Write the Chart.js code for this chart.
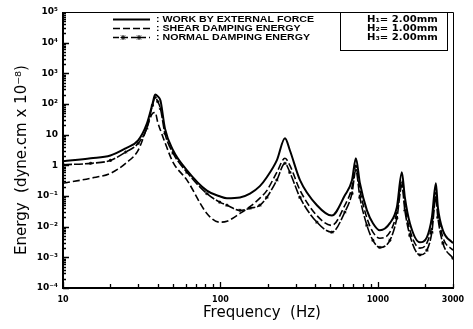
<!DOCTYPE html>
<html><head><meta charset="utf-8">
<script src="https://cdn.jsdelivr.net/npm/chart.js@4"></script>
<style>html,body{margin:0;padding:0;background:#fff}#wrap{width:473px;height:329px}</style>
</head><body><div id="wrap"><canvas id="c" width="473" height="329"></canvas></div>
<script>
// ---- data ----
const frequencies = [10,15,20,25,30,34,37,38.5,40,41.6,44.4,50,61.3,82,99,110,133,154,178,197,228,257,276,320,410,510,617,684,725,769,852,930,1030,1192,1320,1420,1484,1597,1848,2047,2203,2335,2404,2587,3000];
const workByExternalForce = [1.35,1.7,2.1,3.6,6.5,22,100,205,178,130,16,3.1,0.69,0.15,0.098,0.085,0.09,0.12,0.21,0.41,1.45,7.6,3.1,0.33,0.05,0.023,0.105,0.32,1.7,0.26,0.034,0.013,0.0076,0.013,0.043,0.59,0.09,0.013,0.0031,0.0045,0.020,0.26,0.043,0.0076,0.0029];
const shearDampingEnergy = [0.26,0.38,0.55,1.16,3.1,16,49,53,25,14,5.6,1.25,0.33,0.027,0.014,0.015,0.027,0.045,0.085,0.15,0.59,1.7,1.0,0.155,0.023,0.011,0.05,0.19,1.0,0.155,0.019,0.0066,0.0042,0.0066,0.030,0.33,0.05,0.0076,0.0020,0.0029,0.011,0.13,0.030,0.0045,0.0017];
const normalDampingEnergy = [1.05,1.16,1.45,2.7,5.2,16,90,163,120,70,11,2.5,0.59,0.12,0.063,0.05,0.034,0.04,0.05,0.09,0.33,1.16,0.59,0.09,0.014,0.0066,0.030,0.12,0.69,0.09,0.011,0.0036,0.0021,0.0036,0.019,0.22,0.034,0.0052,0.0012,0.0017,0.0066,0.09,0.020,0.0029,0.00093];
const xTickValues = [10,100,1000,3000];
const xTickLabels = ['10','100','1000','3000'];
const yTickValues = [1e5,1e4,1e3,1e2,10,1,0.1,0.01,0.001,0.0001];
const yTickLabels = ['10⁵','10⁴','10³','10²','10','1','10⁻¹','10⁻²','10⁻³','10⁻⁴'];
const seriesLabels = [': WORK BY EXTERNAL FORCE', ': SHEAR DAMPING ENERGY', ': NORMAL DAMPING ENERGY'];
const paramLabels = ['H₁= 2.00mm','H₂= 1.00mm','H₃= 2.00mm'];
const xTitle = 'Frequency  (Hz)';
const yTitle = 'Energy  (dyne.cm x 10⁻⁸)';

const toPts = arr => frequencies.map((f,i)=>({x:f,y:arr[i]}));

const deco = {
  id:'deco',
  afterDraw(chart){
    const ctx = chart.ctx, a = chart.chartArea;
    const xs = chart.scales.x, ys = chart.scales.y;
    ctx.save();
    ctx.strokeStyle = '#000'; ctx.fillStyle = '#000';
    // frame
    ctx.lineWidth = 1;
    ctx.beginPath();
    ctx.moveTo(a.left, a.top+0.5); ctx.lineTo(a.right+0.5, a.top+0.5); ctx.lineTo(a.right+0.5, a.bottom);
    ctx.stroke();
    ctx.lineWidth = 2;
    ctx.beginPath();
    ctx.moveTo(a.left, a.top); ctx.lineTo(a.left, a.bottom); ctx.lineTo(a.right+1, a.bottom);
    ctx.stroke();
    // inward ticks
    ctx.lineWidth = 1.3;
    ctx.beginPath();
    for (let n=-4;n<=4;n++) for (let k=1;k<=9;k++){
      const v = k*Math.pow(10,n); if (v>1e5*1.0001) continue;
      const y = Math.round(ys.getPixelForValue(v))+0.5;
      const len = k===1?6:3;
      ctx.moveTo(a.left, y); ctx.lineTo(a.left+len, y);
    }
    for (let n=1;n<=3;n++) for (let k=1;k<=9;k++){
      const v = k*Math.pow(10,n); if (v>3000*1.0001) continue;
      const x = Math.round(xs.getPixelForValue(v))+0.5;
      const len = k===1?6:4;
      ctx.moveTo(x, a.bottom); ctx.lineTo(x, a.bottom-len);
    }
    ctx.stroke();
    // legend
    const rows = [19.5, 28.5, 37.5];
    const sx0 = 113, sx1 = 150;
    ctx.lineWidth = 2; ctx.setLineDash([]);
    ctx.beginPath(); ctx.moveTo(sx0, rows[0]); ctx.lineTo(sx1, rows[0]); ctx.stroke();
    ctx.lineWidth = 1.6; ctx.setLineDash([7,3]);
    ctx.beginPath(); ctx.moveTo(sx0, rows[1]); ctx.lineTo(sx1, rows[1]); ctx.stroke();
    ctx.setLineDash([6,3]);
    ctx.beginPath(); ctx.moveTo(sx0, rows[2]); ctx.lineTo(sx1, rows[2]); ctx.stroke();
    ctx.setLineDash([]); ctx.lineWidth = 1;
    [123, 139].forEach(px=>{
      ctx.beginPath();
      ctx.moveTo(px-2.5, rows[2]); ctx.lineTo(px+2.5, rows[2]);
      ctx.moveTo(px, rows[2]-2.5); ctx.lineTo(px, rows[2]+2.5);
      ctx.moveTo(px-2, rows[2]-2); ctx.lineTo(px+2, rows[2]+2);
      ctx.moveTo(px-2, rows[2]+2); ctx.lineTo(px+2, rows[2]-2);
      ctx.stroke();
    });
    ctx.font = 'bold 9px "Liberation Sans"';
    ctx.textBaseline = 'middle'; ctx.textAlign = 'left';
    seriesLabels.forEach((t,i)=>{
      ctx.save(); ctx.translate(156, rows[i]+0.5); ctx.scale(1.18,1);
      ctx.fillText(t, 0, 0); ctx.restore();
    });
    // parameter box
    ctx.lineWidth = 1;
    ctx.strokeRect(340.5, a.top+0.5, 107, 38);
    ctx.font = 'bold 9px "DejaVu Sans"';
    paramLabels.forEach((t,i)=>{
      ctx.save(); ctx.translate(367, rows[i]); ctx.scale(1.12,1);
      ctx.fillText(t, 0, 0); ctx.restore();
    });
    // axis titles
    ctx.font = '15px "DejaVu Sans"';
    ctx.textAlign = 'center'; ctx.textBaseline = 'middle';
    ctx.fillText(xTitle, 262, 313);
    ctx.translate(22, 160); ctx.rotate(-Math.PI/2);
    ctx.fillText(yTitle, 0, 0);
    ctx.restore();
  }
};

new Chart(document.getElementById('c'), {
  type:'line',
  data:{ datasets:[
    {label:seriesLabels[0], data:toPts(workByExternalForce), borderColor:'#000', borderWidth:2, pointRadius:0, cubicInterpolationMode:'monotone', fill:false},
    {label:seriesLabels[1], data:toPts(shearDampingEnergy), borderColor:'#000', borderWidth:1.6, borderDash:[7,3], pointRadius:0, cubicInterpolationMode:'monotone', fill:false},
    {label:seriesLabels[2], data:toPts(normalDampingEnergy), borderColor:'#000', borderWidth:1.6, borderDash:[9,2], pointRadius:1.6, pointStyle:'star', pointBorderColor:'#000', pointBorderWidth:1, cubicInterpolationMode:'monotone', fill:false}
  ]},
  options:{
    responsive:false, animation:false, devicePixelRatio:1,
    layout:{padding:{left:0,right:20,top:12,bottom:0}},
    plugins:{legend:{display:false}, tooltip:{enabled:false}},
    scales:{
      x:{type:'logarithmic', min:10, max:3000, position:'bottom',
         afterBuildTicks:s=>{s.ticks = xTickValues.map(v=>({value:v}));},
         afterFit:s=>{s.height = 41;},
         ticks:{callback:(v)=>{const i=xTickValues.indexOf(v);return i<0?'':xTickLabels[i];}, font:{family:'DejaVu Sans',size:8,weight:'bold'}, color:'#000', padding:7, maxRotation:0, autoSkip:false},
         grid:{display:false, drawTicks:false}, border:{display:false}},
      y:{type:'logarithmic', min:1e-4, max:1e5, position:'left',
         afterBuildTicks:s=>{s.ticks = yTickValues.map(v=>({value:v}));},
         afterFit:s=>{s.width = 63;},
         ticks:{callback:(v)=>{const i=yTickValues.findIndex(t=>Math.abs(t-v)/t<1e-6);return i<0?'':yTickLabels[i];}, font:{family:'DejaVu Sans',size:9,weight:'bold'}, color:'#000', padding:5, autoSkip:false},
         grid:{display:false, drawTicks:false}, border:{display:false}}
    }
  },
  plugins:[deco]
});
</script></body></html>
